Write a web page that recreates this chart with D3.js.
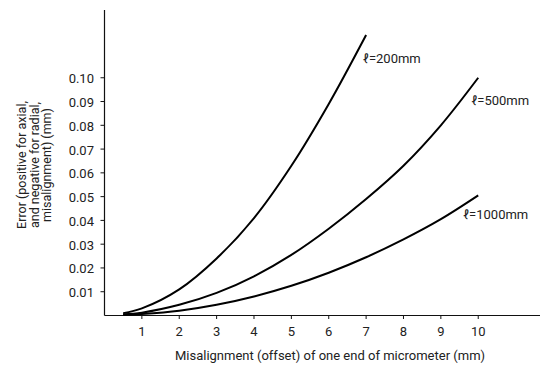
<!DOCTYPE html>
<html>
<head>
<meta charset="utf-8">
<script src="https://cdn.jsdelivr.net/npm/d3@7"></script>
<style>
  body { margin: 0; background: #fff; }
  text { font-family: "Roboto", "Liberation Sans Narrow", "DejaVu Sans Condensed", sans-serif; fill: #222; }
</style>
</head>
<body>
<div id="chart"></div>
<script>
// misalignment values (mm)
var offsets = [0.5, 1, 2, 3, 4, 5, 6, 7, 8, 9, 10];
// error (mm)
var err200 = [0.001, 0.003, 0.011, 0.024, 0.041, 0.063, 0.089, 0.118];
var err500 = [0.0005, 0.0012, 0.0045, 0.0095, 0.0165, 0.0255, 0.0365, 0.049, 0.063, 0.080, 0.100];
var err1000 = [0.0002, 0.0006, 0.002, 0.0045, 0.008, 0.0125, 0.018, 0.0245, 0.032, 0.0405, 0.0505];
var seriesNames = ["\u2113=200mm", "\u2113=500mm", "\u2113=1000mm"];
var xTicks = [1, 2, 3, 4, 5, 6, 7, 8, 9, 10];
var yTicks = [0.01, 0.02, 0.03, 0.04, 0.05, 0.06, 0.07, 0.08, 0.09, 0.10];

var width = 544, height = 365;
var svg = d3.select("#chart").append("svg")
    .attr("width", width)
    .attr("height", height);

var x = d3.scaleLinear().domain([0, 11.8]).range([104.5, 545.5]);
var y = d3.scaleLinear().domain([0, 0.1285]).range([315.5, 10]);

// axes lines
svg.append("line")
    .attr("x1", x(0)).attr("x2", x(0))
    .attr("y1", y.range()[1]).attr("y2", y(0))
    .style("stroke", "#111").style("stroke-width", 1.2);
svg.append("line")
    .attr("x1", x(0)).attr("x2", 540)
    .attr("y1", y(0)).attr("y2", y(0))
    .style("stroke", "#111").style("stroke-width", 1.2);

// y ticks
var yt = svg.selectAll(".ytick").data(yTicks).enter().append("g");
yt.append("line")
    .attr("x1", x(0) - 4).attr("x2", x(0))
    .attr("y1", function(d){ return y(d); })
    .attr("y2", function(d){ return y(d); })
    .style("stroke", "#111");
yt.append("text")
    .attr("x", x(0) - 10.5)
    .attr("y", function(d){ return y(d) + 5.5; })
    .attr("text-anchor", "end")
    .style("font-size", "13px")
    .text(function(d){ return d.toFixed(2); });

// x ticks
svg.selectAll(".xtickline").data(xTicks).enter().append("line")
    .attr("x1", function(d){ return x(d); })
    .attr("x2", function(d){ return x(d); })
    .attr("y1", y(0)).attr("y2", y(0) + 3.5)
    .style("stroke", "#111");
svg.selectAll(".xtick").data(xTicks).enter().append("text")
    .attr("x", function(d){ return x(d); })
    .attr("y", 336)
    .attr("text-anchor", "middle")
    .style("font-size", "13px")
    .text(function(d){ return d; });

// axis titles
svg.append("text")
    .attr("x", 330)
    .attr("y", 360)
    .attr("text-anchor", "middle")
    .style("font-size", "13px")
    .text("Misalignment (offset) of one end of micrometer (mm)");

var ytitle = ["Error (positive for axial,", "and negative for radial,", "misalignment) (mm)"];
svg.append("g")
    .attr("transform", "translate(26,165) rotate(-90)")
    .selectAll("text").data(ytitle).enter().append("text")
    .attr("x", 0)
    .attr("y", function(d, i){ return i * 12.5; })
    .attr("text-anchor", "middle")
    .style("font-size", "12.5px")
    .text(function(d){ return d; });

// curves
var line = d3.line()
    .curve(d3.curveCatmullRom)
    .x(function(d){ return x(d[0]); })
    .y(function(d){ return y(d[1]); });

var series = [err200, err500, err1000];
series.forEach(function(s){
    var pts = s.map(function(v, i){ return [offsets[i], v]; });
    svg.append("path")
        .datum(pts)
        .attr("d", line)
        .style("fill", "none")
        .style("stroke", "#000")
        .style("stroke-width", 2);
});

// curve labels
var labelPos = [[6.91, 0.106], [9.81, 0.0884], [9.59, 0.0405]];
svg.selectAll(".lab").data(seriesNames).enter().append("text")
    .attr("x", function(d, i){ return x(labelPos[i][0]); })
    .attr("y", function(d, i){ return y(labelPos[i][1]); })
    .style("font-size", "13px")
    .text(function(d){ return d; });
</script>
</body>
</html>
